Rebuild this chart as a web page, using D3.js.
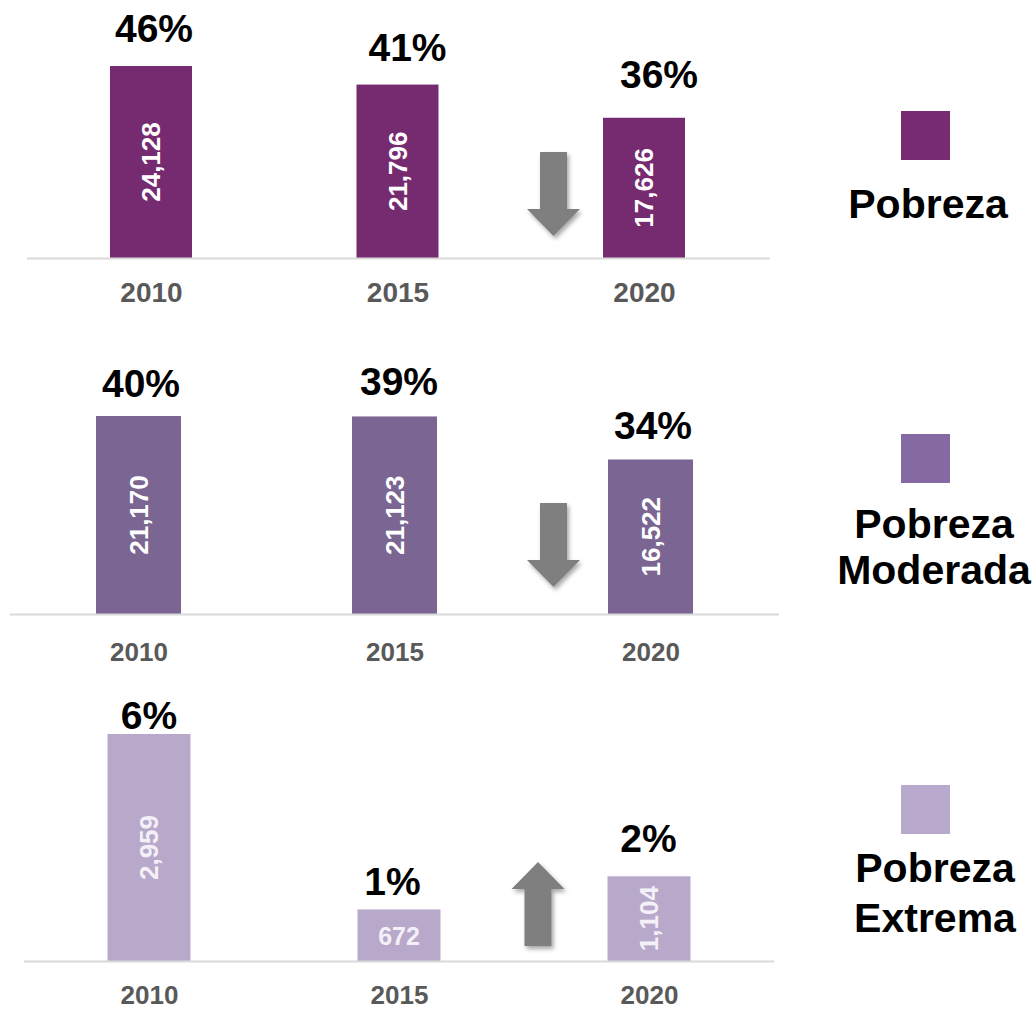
<!DOCTYPE html>
<html>
<head>
<meta charset="utf-8">
<script src="https://cdn.jsdelivr.net/npm/d3@7"></script>
<style>
  html, body { margin: 0; padding: 0; background: #ffffff; }
  svg { display: block; font-family: "Liberation Sans", Arial, Helvetica, sans-serif; }
</style>
</head>
<body>
<svg id="chart" width="1036" height="1010"></svg>
<script>
// ---------- DATA ----------
const years = ["2010", "2015", "2020"];

const pobrezaValues  = [24128, 21796, 17626];
const pobrezaPct     = ["46%", "41%", "36%"];

const moderadaValues = [21170, 21123, 16522];
const moderadaPct    = ["40%", "39%", "34%"];

const extremaValues  = [2959, 672, 1104];
const extremaPct     = ["6%", "1%", "2%"];

const legendLabels = [["Pobreza"], ["Pobreza", "Moderada"], ["Pobreza", "Extrema"]];
const trendDirection = ["down", "down", "up"];

// ---------- LAYOUT / STYLE ----------
const panels = [
  { values: pobrezaValues, pct: pobrezaPct, legend: legendLabels[0], trend: trendDirection[0],
    color: "#762a70", legendColor: "#772b72", labelColor: "#ffffff",
    baseline: 258, top: 19.3, domainMax: 30000,
    xRange: [151, 644], barW: 82, axisX: [27, 770], yearSize: 28, yearGap: 44,
    pctDx: [3, 10, 15], pctGap: [24, 24, 30],
    arrowX: 553.5, arrowFrom: 152, arrowTo: 236,
    legendSq: [901, 111], legendX: 928, legendBase: [218], legendLine: 46 },
  { values: moderadaValues, pct: moderadaPct, legend: legendLabels[1], trend: trendDirection[1],
    color: "#7b6593", legendColor: "#8469a3", labelColor: "#ffffff",
    baseline: 614, top: 380.2, domainMax: 25000,
    xRange: [138.5, 650.5], barW: 85, axisX: [10, 779], yearSize: 26, yearGap: 47,
    pctDx: [2.5, 4.5, 2.5], pctGap: [19, 21, 20],
    arrowX: 553.5, arrowFrom: 503, arrowTo: 587,
    legendSq: [901, 434], legendX: 934, legendBase: [538, 584], legendLine: 46 },
  { values: extremaValues, pct: extremaPct, legend: legendLabels[2], trend: trendDirection[2],
    color: "#b8a9cb", legendColor: "#b9a9cc", labelColor: "#f4f0f7",
    baseline: 961, top: 692.5, domainMax: 3500,
    xRange: [149, 649], barW: 83, axisX: [24, 774], yearSize: 26, yearGap: 43,
    pctDx: [0, -6.5, -0.5], pctGap: [5, 14, 24],
    arrowX: 538, arrowFrom: 946, arrowTo: 862,
    legendSq: [901, 785], legendX: 935, legendBase: [882, 932], legendLine: 50 }
];

const svg = d3.select("#chart");

// drop shadow for arrows
const defs = svg.append("defs");
const f = defs.append("filter").attr("id", "shadow")
  .attr("x", "-50%").attr("y", "-50%").attr("width", "200%").attr("height", "200%");
f.append("feDropShadow").attr("dx", 2).attr("dy", 3).attr("stdDeviation", 2.2)
  .attr("flood-color", "#000").attr("flood-opacity", 0.35);

const fmt = d3.format(",");

panels.forEach(p => {
  const g = svg.append("g");
  const data = years.map((yr, i) => ({ year: yr, value: p.values[i], pct: p.pct[i], i }));

  const x = d3.scalePoint().domain(years).range(p.xRange).padding(0);
  const y = d3.scaleLinear().domain([0, p.domainMax]).range([p.baseline, p.top]);

  // bars
  g.selectAll("rect.bar").data(data).join("rect")
    .attr("class", "bar")
    .attr("x", d => x(d.year) - p.barW / 2)
    .attr("y", d => y(d.value))
    .attr("width", p.barW)
    .attr("height", d => y(0) - y(d.value))
    .attr("fill", p.color);

  // baseline
  g.append("line")
    .attr("x1", p.axisX[0]).attr("x2", p.axisX[1])
    .attr("y1", p.baseline + 0.5).attr("y2", p.baseline + 0.5)
    .attr("stroke", "#d9d9d9").attr("stroke-width", 2);

  // x axis (year labels)
  const ax = g.append("g")
    .attr("transform", `translate(0,${p.baseline})`)
    .call(d3.axisBottom(x).tickSize(0));
  ax.select(".domain").remove();
  ax.selectAll("text")
    .attr("y", p.yearGap).attr("dy", null)
    .attr("fill", "#595959")
    .attr("font-size", p.yearSize)
    .attr("font-weight", "bold")
    .attr("font-family", "'Liberation Sans', Arial, sans-serif");

  // value labels inside bars
  g.selectAll("text.val").data(data).join("text")
    .attr("class", "val")
    .attr("text-anchor", "middle")
    .attr("dominant-baseline", "central")
    .attr("fill", p.labelColor)
    .attr("font-size", 26)
    .attr("font-weight", "bold")
    .text(d => fmt(d.value))
    .each(function(d) {
      const len = this.getComputedTextLength();
      const h = y(0) - y(d.value);
      const cx = x(d.year), cy = (y(0) + y(d.value)) / 2;
      if (h < len + 12) {
        d3.select(this).attr("font-size", 25).attr("transform", `translate(${cx},${cy + 1})`);
      } else {
        d3.select(this).attr("transform", `translate(${cx},${cy}) rotate(-90)`);
      }
    });

  // percentage labels
  g.selectAll("text.pct").data(data).join("text")
    .attr("class", "pct")
    .attr("text-anchor", "middle")
    .attr("x", d => x(d.year) + p.pctDx[d.i])
    .attr("y", d => y(d.value) - p.pctGap[d.i])
    .attr("fill", "#000000")
    .attr("font-size", 39)
    .attr("font-weight", "bold")
    .text(d => d.pct);

  // trend arrow
  const sw = 27, hw = 53, hl = 27;
  const dir = p.trend === "down" ? 1 : -1;
  const ax0 = p.arrowX, y0 = p.arrowFrom, y1 = p.arrowTo;
  const yh = y1 - dir * hl;
  const arrowPath = d3.path();
  arrowPath.moveTo(ax0 - sw / 2, y0);
  arrowPath.lineTo(ax0 + sw / 2, y0);
  arrowPath.lineTo(ax0 + sw / 2, yh);
  arrowPath.lineTo(ax0 + hw / 2, yh);
  arrowPath.lineTo(ax0, y1);
  arrowPath.lineTo(ax0 - hw / 2, yh);
  arrowPath.lineTo(ax0 - sw / 2, yh);
  arrowPath.closePath();
  g.append("path").attr("d", arrowPath.toString())
    .attr("fill", "#7f7f7f").attr("filter", "url(#shadow)");

  // legend
  g.append("rect")
    .attr("x", p.legendSq[0]).attr("y", p.legendSq[1])
    .attr("width", 49).attr("height", 49)
    .attr("fill", p.legendColor);
  p.legend.forEach((line, j) => {
    g.append("text")
      .attr("x", p.legendX)
      .attr("y", p.legendBase[j] !== undefined ? p.legendBase[j] : p.legendBase[0] + j * p.legendLine)
      .attr("text-anchor", "middle")
      .attr("fill", "#000000")
      .attr("font-size", 41)
      .attr("font-weight", "bold")
      .text(line);
  });
});
</script>
</body>
</html>
